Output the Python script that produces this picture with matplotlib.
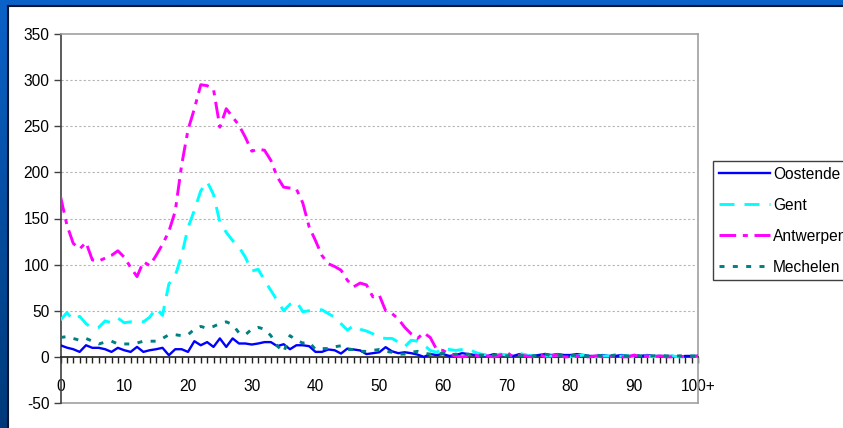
import matplotlib
matplotlib.use('Agg')
import matplotlib.pyplot as plt
import numpy as np
from matplotlib.colors import LinearSegmentedColormap
from matplotlib.patches import Rectangle
from matplotlib.ticker import FixedLocator, MultipleLocator

plt.rcParams['font.family'] = ['Liberation Sans', 'DejaVu Sans']
plt.rcParams['lines.scale_dashes'] = False

# ---------------- data ----------------
ages = list(range(101))
x_tick_pos = list(range(0, 101, 10))
x_tick_labels = ['0', '10', '20', '30', '40', '50', '60', '70', '80', '90', '100+']
y_ticks = [-50, 0, 50, 100, 150, 200, 250, 300, 350]
series_names = ['Oostende', 'Gent', 'Antwerpen', 'Mechelen']

oostende = [12.6, 10, 8.3, 5.4, 12.6, 9.8, 9.8, 8.3, 5.4, 9.8,
            7.2, 5.4, 10.8, 5.4, 7.2, 8.3, 9.8, 1.8, 8.3, 8.3,
            5.4, 17, 12.6, 16, 10.8, 20, 10.8, 20, 14.5, 14.5,
            13.4, 14.5, 16, 16, 11.6, 13.7, 8.3, 12.6, 12.6, 11.6,
            5.4, 5.4, 8, 7.2, 3.6, 9, 8, 7, 3, 4,
            5, 10.5, 6, 4, 5, 4, 2.5, 0, 3, 2,
            3, 1, 2, 4, 3, 2, 2, 1, 3, 2,
            2, 1, 3, 2, 1, 2, 3, 2, 3, 2,
            2, 3, 2, 1, 1, 2, 1, 1, 2, 1,
            1, 1, 2, 1, 1, 1, 1, 0, 1, 1,
            1]

gent = [40, 48, 40, 44, 36, 31, 32, 39, 37, 42,
        37, 38, 38, 38, 43, 53, 45, 79, 88, 110,
        140, 159, 180, 190, 176, 146, 135, 126, 119, 108,
        93, 95, 83, 72, 61, 50, 57, 60, 49, 50,
        51, 51, 47, 43, 36, 29, 34, 30, 28, 25,
        21, 20, 20, 16, 11, 18, 17, 13, 7, 5,
        10, 8, 7, 8, 9, 5, 3, 2, 2, 3,
        2, 1, 4, 2, 1, 2, 1, 1, 2, 1,
        0, 1, 2, 1, 0, 1, 1, 0, 1, 1,
        0, 1, 1, 0, 1, 0, 1, 0, 0, 1,
        0]

antwerpen = [174, 143, 123, 117, 124, 105, 104, 107, 110, 115,
             108, 97, 87, 103, 99, 110, 122, 136, 158, 208,
             246, 269, 295, 294, 290, 249, 269, 260, 251, 238,
             223, 225, 224, 213, 195, 184, 183, 182, 167, 141,
             126, 110, 101, 98, 94, 83, 76, 80, 78, 65,
             67, 50, 47, 41, 32, 25, 20, 26, 21, 8,
             7, 3, 1, 0, 1, 2, 0, 1, 0, 2,
             5, 0, 2, 1, 0, 3, 0, 1, 2, 0,
             0, 1, 0, 0, 1, 0, 0, 1, 0, 0,
             2, 0, 1, 0, 1, 0, 0, 1, 0, 0,
             1]

mechelen = [21, 22, 20, 18, 20, 17, 14, 16, 17, 14,
            14, 14, 15, 17, 17, 17, 20, 24, 24, 23,
            24, 30, 33, 31, 33, 36, 38, 35, 26, 24,
            30, 32, 30, 23, 12, 5, 23, 18, 15, 16,
            8, 9, 9, 11, 12, 8, 8, 6, 6, 7,
            8, 6, 5, 3, 3, 5, 6, 4, 3, 3,
            4, 2, 3, 2, 3, 1, 2, 1, 2, 3,
            1, 2, 1, 2, 1, 2, 3, 1, 2, 1,
            1, 2, 1, 1, 2, 1, 1, 2, 1, 1,
            2, 1, 1, 1, 2, 1, 1, 1, 1, 1,
            1]

# ---------------- figure ----------------
W, H = 843, 428
fig = plt.figure(figsize=(W / 100, H / 100), dpi=100)

bg = fig.add_axes([0, 0, 1, 1], zorder=-10)
grad = np.linspace(0, 1, 256).reshape(-1, 1)
cmap = LinearSegmentedColormap.from_list('frame', ['#0b62c8', '#00397a'])
bg.imshow(grad, extent=[0, 1, 0, 1], aspect='auto', cmap=cmap, origin='upper')
bg.add_patch(Rectangle((8 / W, 0), 1, 1 - 6 / H, facecolor='white', edgecolor='none'))
bg.plot([8 / W, 8 / W], [0, 1 - 6 / H], color='#07162e', lw=1.5)
bg.plot([8 / W, 1], [1 - 6 / H, 1 - 6 / H], color='#07162e', lw=1.5)
bg.set_xlim(0, 1)
bg.set_ylim(0, 1)
bg.axis('off')

ax = fig.add_axes([60.5 / W, 1 - 403 / H, (698 - 60.5) / W, (403 - 34) / H])
ax.set_facecolor('white')
ax.set_xlim(0, 100)
ax.set_ylim(-50, 350)

for y in [50, 100, 150, 200, 250, 300]:
    ax.axhline(y, color='#b4b4b4', lw=0.8, ls=(0, (1.6, 1.6)), zorder=0)

ax.spines['top'].set_color('#a0a0a0')
ax.spines['top'].set_linewidth(1.2)
ax.spines['right'].set_color('#a0a0a0')
ax.spines['right'].set_linewidth(1.2)
ax.spines['left'].set_color('#404040')
ax.spines['left'].set_linewidth(1.2)
ax.spines['bottom'].set_position(('data', 0))
ax.spines['bottom'].set_color('#202020')
ax.spines['bottom'].set_linewidth(1.2)
ax.plot([0, 100], [-50, -50], color='#a0a0a0', lw=1.2, clip_on=False, zorder=1)

ax.set_yticks(y_ticks)
ax.set_yticklabels([str(v) for v in y_ticks])
ax.xaxis.set_major_locator(FixedLocator(x_tick_pos))
ax.set_xticklabels(x_tick_labels)
ax.xaxis.set_minor_locator(MultipleLocator(1))
ax.tick_params(axis='y', direction='out', length=5, width=1, color='#404040',
               pad=3, labelsize=11.2, labelcolor='black')
ax.tick_params(axis='x', which='both', direction='out', length=4, width=1,
               color='#202020', pad=12, labelsize=11.2, labelcolor='black')

colors = ['#0000ff', '#00ffff', '#ff00ff', '#008080']
styles = ['-', (0, (10.8, 7.2)), (0, (12, 4.8, 3.6, 4.8)), (0, (3.6, 6))]
widths = [1.7, 2.1, 2.1, 2.1]
data = [oostende, gent, antwerpen, mechelen]
handles = []
for name, vals, c, ls, lw in zip(series_names, data, colors, styles, widths):
    ln, = ax.plot(ages, vals, color=c, ls=ls, lw=lw, label=name,
                  dash_capstyle='butt', solid_joinstyle='round', zorder=3)
    handles.append(ln)

leg = ax.legend(handles=handles, loc='upper left',
                bbox_to_anchor=(712.7 / W, 1 - 161 / H), bbox_transform=fig.transFigure,
                frameon=True, fancybox=False, framealpha=1, edgecolor='#404040',
                borderpad=0.38, handlelength=3.3, handletextpad=0.2,
                labelspacing=1.02, fontsize=11.2, borderaxespad=0)
leg.get_frame().set_linewidth(1.0)

fig.savefig('out.png', dpi=100)
